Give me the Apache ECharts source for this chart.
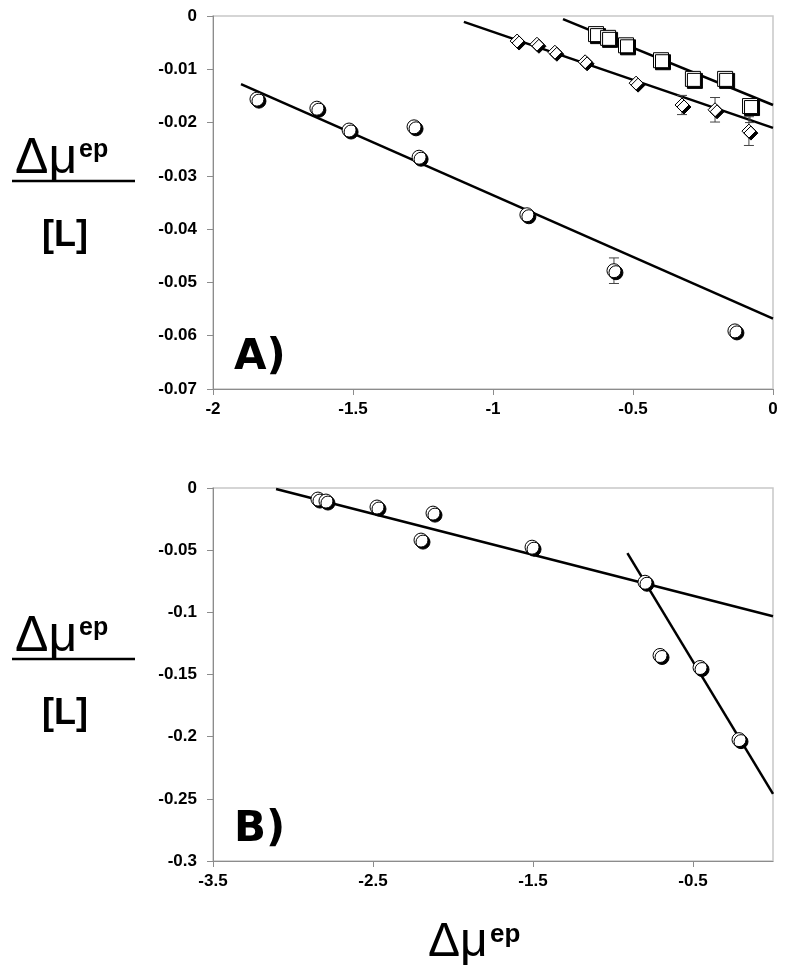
<!DOCTYPE html>
<html>
<head>
<meta charset="utf-8">
<script src="https://cdn.jsdelivr.net/npm/echarts@6/dist/echarts.min.js"></script>
<style>html,body{margin:0;padding:0;background:#fff}#c{width:788px;height:979px}</style>
</head>
<body>
<div id="c"></div>
<script>
// ---- Panel A data ----
const aCircleX = [-1.843, -1.629, -1.514, -1.282, -1.264, -0.879, -0.568, -0.136];
const aCircleY = [-0.0156, -0.0173, -0.0214, -0.0208, -0.0265, -0.0373, -0.0478, -0.0591];
const aCircleErrUp = [0, 0.0006, 0, 0, 0, 0, 0.0024, 0.0006];
const aCircleErrDown = [0, 0.0006, 0, 0, 0, 0, 0.0024, 0.0006];
const aSquareX = [-0.632, -0.589, -0.525, -0.400, -0.286, -0.171, -0.082];
const aSquareY = [-0.0034, -0.0041, -0.0055, -0.0083, -0.0118, -0.0118, -0.0169];
const aSquareErrUp = [0, 0, 0, 0, 0, 0, 0.0012];
const aSquareErrDown = [0, 0, 0, 0, 0, 0, 0.0031];
const aDiamondX = [-0.914, -0.843, -0.779, -0.671, -0.489, -0.325, -0.207, -0.086];
const aDiamondY = [-0.0047, -0.0053, -0.0068, -0.0086, -0.0126, -0.0167, -0.0176, -0.0216];
const aDiamondErrUp = [0, 0, 0, 0, 0, 0.0018, 0.0023, 0.0027];
const aDiamondErrDown = [0, 0, 0, 0, 0, 0.0018, 0.0023, 0.0027];
const aCircleFitX = [-1.9, 0];
const aCircleFitY = [-0.0128, -0.0568];
const aSquareFitX = [-0.75, 0];
const aSquareFitY = [-0.0006, -0.0167];
const aDiamondFitX = [-1.104, 0];
const aDiamondFitY = [-0.0011, -0.0210];
const aXTicks = [-2, -1.5, -1, -0.5, 0];
const aYTicks = [0, -0.01, -0.02, -0.03, -0.04, -0.05, -0.06, -0.07];

// ---- Panel B data ----
const bCircleX = [-2.844, -2.794, -2.475, -2.125, -2.2, -1.506, -0.8, -0.706, -0.456, -0.2125];
const bCircleY = [-0.0089, -0.0105, -0.0153, -0.0202, -0.0419, -0.0476, -0.0758, -0.1347, -0.1444, -0.2024];
const bCircleErrUp = [0, 0, 0, 0, 0, 0, 0.004, 0, 0, 0];
const bCircleErrDown = [0, 0, 0, 0, 0, 0, 0.004, 0, 0, 0];
const bShallowFitX = [-3.106, 0];
const bShallowFitY = [-0.0008, -0.1032];
const bSteepFitX = [-0.91, 0];
const bSteepFitY = [-0.0523, -0.246];
const bXTicks = [-3.5, -2.5, -1.5, -0.5];
const bYTicks = [0, -0.05, -0.1, -0.15, -0.2, -0.25, -0.3];

const zip = (xs, ys) => xs.map((x, i) => [x, ys[i]]);
const errData = (xs, ys, up, dn) => xs.map((x, i) => [x, ys[i], up[i], dn[i]]).filter(d => d[2] > 0 || d[3] > 0);

const fmt = v => String(+(+v).toFixed(3));
const labelStyle = {color: '#000', fontWeight: 'bold', fontSize: 17, fontFamily: 'Liberation Sans, Arial, sans-serif'};

function xAxis(gi, min, max, ticks) {
  return {
    type: 'value', gridIndex: gi, min: min, max: max,
    axisLine: {show: true, onZero: false, lineStyle: {color: '#8c8c8c', width: 1}},
    axisTick: {show: true, length: 6, lineStyle: {color: '#8c8c8c'}, customValues: ticks},
    axisLabel: Object.assign({margin: 12, formatter: fmt, customValues: ticks, showMinLabel: true, showMaxLabel: true}, labelStyle),
    splitLine: {show: false}
  };
}
function yAxis(gi, min, max, ticks) {
  return {
    type: 'value', gridIndex: gi, min: min, max: max,
    axisLine: {show: true, onZero: false, lineStyle: {color: '#8c8c8c', width: 1}},
    axisTick: {show: true, length: 6, lineStyle: {color: '#8c8c8c'}, customValues: ticks},
    axisLabel: Object.assign({margin: 16, formatter: fmt, customValues: ticks, showMinLabel: true, showMaxLabel: true}, labelStyle),
    splitLine: {show: false}
  };
}

const shadow = {shadowColor: '#000', shadowBlur: 0, shadowOffsetX: 2, shadowOffsetY: 2};
const markerStyle = Object.assign({color: '#fff', borderColor: '#000', borderWidth: 1, opacity: 1}, shadow);

function scatter(gi, data, symbol, size) {
  return {type: 'scatter', xAxisIndex: gi, yAxisIndex: gi, data: data, symbol: symbol, symbolSize: size,
    itemStyle: markerStyle, z: 5, silent: true};
}
function fit(gi, data) {
  return {type: 'line', xAxisIndex: gi, yAxisIndex: gi, data: data, symbol: 'none',
    lineStyle: {color: '#000', width: 2.5}, z: 3, silent: true};
}
function errBars(gi, data) {
  return {
    type: 'custom', xAxisIndex: gi, yAxisIndex: gi, data: data, z: 4, silent: true,
    renderItem: function (params, api) {
      const x = api.value(0), y = api.value(1), eu = api.value(2), ed = api.value(3);
      const hi = api.coord([x, y + eu]), lo = api.coord([x, y - ed]);
      const cw = 5;
      const st = {stroke: '#444', lineWidth: 1};
      const ch = [{type: 'line', shape: {x1: hi[0], y1: hi[1], x2: lo[0], y2: lo[1]}, style: st}];
      if (eu > 0) ch.push({type: 'line', shape: {x1: hi[0] - cw, y1: hi[1], x2: hi[0] + cw, y2: hi[1]}, style: st});
      if (ed > 0) ch.push({type: 'line', shape: {x1: lo[0] - cw, y1: lo[1], x2: lo[0] + cw, y2: lo[1]}, style: st});
      return {type: 'group', children: ch};
    }
  };
}

const gridStyle = {show: true, borderColor: '#c8c8c8', borderWidth: 1.5, backgroundColor: 'transparent'};

const titleFont = 'Liberation Sans, Arial, sans-serif';
function yLabel(lineY) {
  return [
    {type: 'text', left: 15, top: lineY - 47, style: {text: 'Δμ', font: '50px ' + titleFont, fill: '#000'}},
    {type: 'text', left: 79, top: lineY - 43, style: {text: 'ep', font: 'bold 25px ' + titleFont, fill: '#000'}},
    {type: 'line', shape: {x1: 12, y1: lineY, x2: 135, y2: lineY}, style: {stroke: '#000', lineWidth: 2.5}},
    {type: 'text', left: 42, top: lineY + 37, style: {text: '[L]', font: 'bold 36px ' + titleFont, fill: '#000'}}
  ];
}

const chart = echarts.init(document.getElementById('c'), null, {renderer: 'canvas'});
chart.setOption({
  animation: false,
  backgroundColor: '#fff',
  grid: [
    Object.assign({left: 213, top: 16, width: 560, height: 373}, gridStyle),
    Object.assign({left: 213, top: 488, width: 560, height: 373}, gridStyle)
  ],
  xAxis: [xAxis(0, -2, 0, aXTicks), xAxis(1, -3.5, 0, bXTicks)],
  yAxis: [yAxis(0, -0.07, 0, aYTicks), yAxis(1, -0.3, 0, bYTicks)],
  series: [
    fit(0, zip(aCircleFitX, aCircleFitY)),
    fit(0, zip(aSquareFitX, aSquareFitY)),
    fit(0, zip(aDiamondFitX, aDiamondFitY)),
    errBars(0, errData(aCircleX, aCircleY, aCircleErrUp, aCircleErrDown)),
    errBars(0, errData(aSquareX, aSquareY, aSquareErrUp, aSquareErrDown)),
    errBars(0, errData(aDiamondX, aDiamondY, aDiamondErrUp, aDiamondErrDown)),
    scatter(0, zip(aCircleX, aCircleY), 'circle', 14),
    scatter(0, zip(aSquareX, aSquareY), 'rect', 15),
    scatter(0, zip(aDiamondX, aDiamondY), 'diamond', 14),
    fit(1, zip(bShallowFitX, bShallowFitY)),
    fit(1, zip(bSteepFitX, bSteepFitY)),
    errBars(1, errData(bCircleX, bCircleY, bCircleErrUp, bCircleErrDown)),
    scatter(1, zip(bCircleX, bCircleY), 'circle', 14)
  ],
  graphic: [].concat(
    yLabel(181),
    yLabel(659),
    [
      {type: 'text', left: 234, top: 337, style: {text: 'A)', font: 'bold 42px DejaVu Sans, Verdana, sans-serif', fill: '#000'}},
      {type: 'text', left: 234, top: 809, style: {text: 'B)', font: 'bold 42px DejaVu Sans, Verdana, sans-serif', fill: '#000'}},
      {type: 'text', left: 428, top: 919, style: {text: 'Δμ', font: '48px ' + titleFont, fill: '#000'}},
      {type: 'text', left: 490, top: 922, style: {text: 'ep', font: 'bold 26px ' + titleFont, fill: '#000'}}
    ]
  )
});
</script>
</body>
</html>
